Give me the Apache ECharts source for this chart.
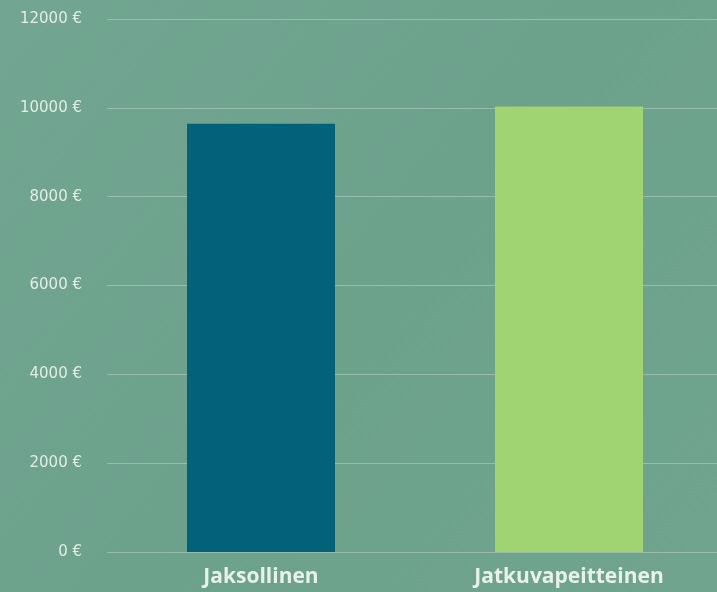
<!DOCTYPE html>
<html>
<head>
<meta charset="utf-8">
<script src="https://cdn.jsdelivr.net/npm/echarts@6/dist/echarts.min.js"></script>
<style>
html,body{margin:0;padding:0;background:#6fa38f;overflow:hidden;}
#c{width:723px;height:592px;}
</style>
</head>
<body>
<div id="c"></div>
<script>
const categories = ["Jaksollinen", "Jatkuvapeitteinen"];
const values = [9640, 10030];
const barColors = ["#03617a", "#a0d372"];
const yTicks = [0, 2000, 4000, 6000, 8000, 10000, 12000];

const chart = echarts.init(document.getElementById('c'));
chart.setOption({
  backgroundColor: {
    type: 'linear', x: 0, y: 0, x2: 1, y2: 1,
    colorStops: [
      {offset: 0, color: '#72a692'},
      {offset: 0.5, color: '#6ca18c'},
      {offset: 1, color: '#70a48f'}
    ]
  },
  animation: false,
  grid: {left: 107, right: 0, top: 19, bottom: 40},
  xAxis: {
    type: 'category',
    data: categories,
    axisLine: {show: false},
    axisTick: {show: false},
    axisLabel: {
      color: '#e9f1ec', fontSize: 21, fontWeight: 'bold',
      fontFamily: 'Open Sans', margin: 15
    }
  },
  yAxis: {
    type: 'value',
    min: yTicks[0], max: yTicks[yTicks.length - 1], interval: 2000,
    axisLine: {show: false},
    axisTick: {show: false},
    splitLine: {lineStyle: {color: 'rgba(225,240,230,0.35)', width: 1}},
    axisLabel: {
      color: '#e2ede6', fontSize: 15, fontFamily: 'DejaVu Sans', margin: 25,
      formatter: v => v + ' €'
    }
  },
  series: [{
    type: 'bar',
    barWidth: 148,
    data: values.map((v, i) => ({value: v, itemStyle: {color: barColors[i]}}))
  }]
});
</script>
</body>
</html>
